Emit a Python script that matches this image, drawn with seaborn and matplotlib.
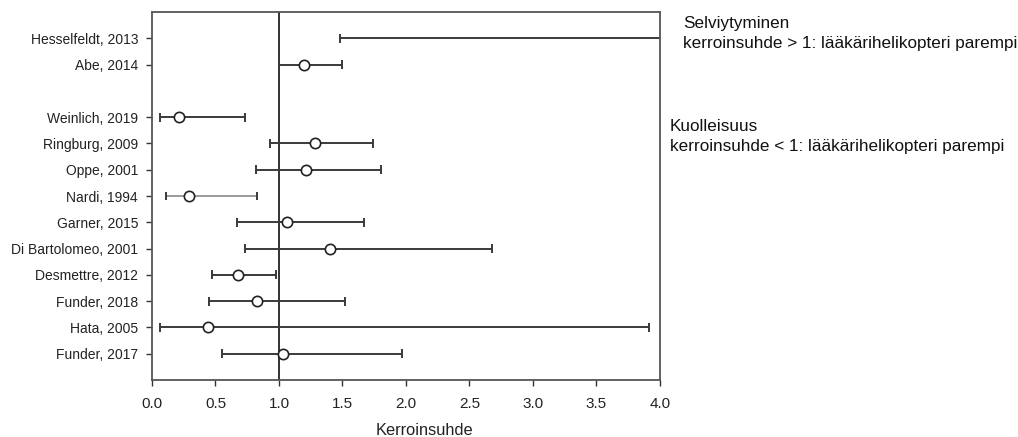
import matplotlib
matplotlib.use("Agg")
import matplotlib.pyplot as plt
import seaborn as sns
import numpy as np
import pandas as pd

studies = ["Hesselfeldt, 2013", "Abe, 2014",
           "Weinlich, 2019", "Ringburg, 2009", "Oppe, 2001", "Nardi, 1994",
           "Garner, 2015", "Di Bartolomeo, 2001", "Desmettre, 2012",
           "Funder, 2018", "Hata, 2005", "Funder, 2017"]
odds_ratio = [4.6, 1.20, 0.21, 1.28, 1.21, 0.29, 1.06, 1.40, 0.68, 0.83, 0.44, 1.03]
ci_lower = [1.48, 1.00, 0.06, 0.93, 0.82, 0.11, 0.67, 0.73, 0.47, 0.45, 0.06, 0.55]
ci_upper = [14.0, 1.50, 0.73, 1.74, 1.80, 0.83, 1.67, 2.68, 0.98, 1.52, 3.91, 1.97]
group = ["Selviytyminen"] * 2 + ["Kuolleisuus"] * 10
x_ticks = [0.0, 0.5, 1.0, 1.5, 2.0, 2.5, 3.0, 3.5, 4.0]

# positions: top group, one empty row, bottom group
n = len(studies)
pos = []
p = n + 1
for i, g in enumerate(group):
    if i > 0 and g != group[i - 1]:
        p -= 1
    pos.append(p)
    p -= 1

df = pd.DataFrame({"study": studies, "or": odds_ratio, "lo": ci_lower,
                   "hi": ci_upper, "pos": pos})

sns.set_theme(style="ticks")
plt.rcParams["font.family"] = ["Liberation Sans", "DejaVu Sans"]

fig = plt.figure(figsize=(10.18, 4.37), dpi=100)
ax = fig.add_axes([0.1493, 0.1304, 0.4990, 0.8421])

ax.axvline(1.0, color="#222222", lw=1.3, zorder=1)

for _, r in df.iterrows():
    col = "#9a9a9a" if r["study"].startswith("Nardi") else "#3a3a3a"
    ax.hlines(r["pos"], r["lo"], r["hi"], color=col, lw=1.4, zorder=2)
    ax.vlines([r["lo"], r["hi"]], r["pos"] - 0.17, r["pos"] + 0.17,
              color="#3a3a3a", lw=1.4, zorder=2)

sns.scatterplot(data=df, x="or", y="pos", ax=ax, marker="o", s=55,
                facecolor="white", edgecolor="#222222", linewidth=1.2,
                zorder=3, legend=False)

ax.set_xlim(0, 4)
ax.set_ylim(0, 14)
ax.set_xticks(x_ticks)
ax.set_xticklabels([f"{t:.1f}" for t in x_ticks], fontsize=11, color="#222222")
ax.set_yticks(df["pos"])
ax.set_yticklabels(df["study"], fontsize=10, color="#222222")
ax.set_xlabel("Kerroinsuhde", fontsize=11.8, color="#222222")
ax.xaxis.set_label_coords(0.537, -0.117)
ax.set_ylabel("")
ax.tick_params(axis="both", length=4, width=1, color="#333333")
ax.tick_params(axis="x", pad=8)
ax.tick_params(axis="y", pad=6)
for s in ax.spines.values():
    s.set_color("#555555")
    s.set_linewidth(1.3)

fig.text(683 / 1018, 1 - 33.5 / 437, "Selviytyminen\nkerroinsuhde > 1: lääkärihelikopteri parempi",
         fontsize=12.3, va="center", ha="left", linespacing=1.35, color="#111111")
fig.text(670 / 1018, 1 - 136.5 / 437, "Kuolleisuus\nkerroinsuhde < 1: lääkärihelikopteri parempi",
         fontsize=12.3, va="center", ha="left", linespacing=1.35, color="#111111")

fig.savefig("out.png", dpi=100)
